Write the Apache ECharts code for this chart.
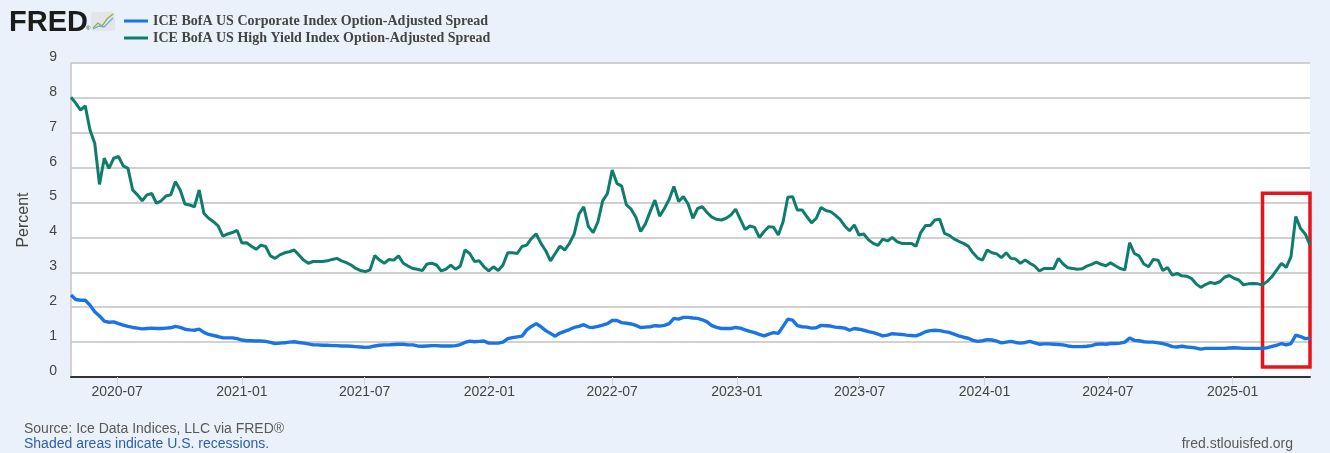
<!DOCTYPE html>
<html>
<head>
<meta charset="utf-8">
<title>ICE BofA US Option-Adjusted Spreads</title>
<script src="https://cdn.jsdelivr.net/npm/echarts@6.0.0/dist/echarts.min.js"></script>
<style>
  html, body { margin: 0; padding: 0; background: #eaf1fa; }
  #chart { width: 1330px; height: 453px; }
</style>
</head>
<body>
<div id="chart"></div>
<script>
// series names as in the legend
var igName = 'ICE BofA US Corporate Index Option-Adjusted Spread';
var hyName = 'ICE BofA US High Yield Index Option-Adjusted Spread';

// weekly observations, first one on 2020-04-24, last one on 2025-04-25
var firstWeek = [2020, 4, 24];
var lastDay = [2025, 4, 25];

// x axis tick labels
var tickLabels = ['2020-07', '2021-01', '2021-07', '2022-01', '2022-07',
                  '2023-01', '2023-07', '2024-01', '2024-07', '2025-01'];

// High Yield OAS, percent (one value per week)
var hyValues = [
  8.02, 7.85, 7.65, 7.77, 7.08, 6.70, 5.52, 6.27, 5.98, 6.27,
  6.32, 6.05, 5.98, 5.36, 5.22, 5.05, 5.22, 5.26, 4.98, 5.05,
  5.19, 5.22, 5.60, 5.36, 4.96, 4.93, 4.88, 5.36, 4.69, 4.55,
  4.45, 4.33, 4.04, 4.10,
  4.14, 4.20, 3.84, 3.85, 3.75, 3.66, 3.78, 3.74, 3.47, 3.40,
  3.50, 3.56, 3.59, 3.64, 3.50, 3.35, 3.26, 3.31, 3.31, 3.31,
  3.33, 3.37, 3.40, 3.33, 3.28, 3.21, 3.11, 3.05, 3.02, 3.07,
  3.48, 3.35,
  3.26, 3.37, 3.35, 3.47, 3.26, 3.18, 3.11, 3.09, 3.05, 3.24,
  3.26, 3.21, 3.04, 3.09, 3.21, 3.09, 3.18, 3.64, 3.54, 3.31,
  3.33, 3.16, 3.04, 3.16, 3.05, 3.21, 3.56, 3.56, 3.54, 3.74,
  3.78, 3.97, 4.10,
  3.83, 3.62, 3.33, 3.54, 3.75, 3.64, 3.83, 4.10, 4.67, 4.88,
  4.31, 4.14, 4.45, 5.05, 5.26, 5.93, 5.55, 5.47, 4.93, 4.81,
  4.58, 4.17, 4.39, 4.74, 5.07, 4.61, 4.83, 5.09, 5.46, 5.03,
  5.17, 4.96, 4.55,
  4.83, 4.88, 4.71, 4.58, 4.52, 4.50, 4.55, 4.64, 4.81, 4.52,
  4.23, 4.33, 4.29, 4.00, 4.17, 4.31, 4.29, 4.07, 4.45, 5.15,
  5.17, 4.79, 4.79, 4.60, 4.42, 4.55, 4.86, 4.77, 4.74, 4.64,
  4.52, 4.33, 4.19,
  4.36, 4.07, 4.10, 3.93, 3.83, 3.77, 3.95, 3.90, 4.00, 3.88,
  3.83, 3.83, 3.83, 3.75, 4.14, 4.34, 4.34, 4.50, 4.52, 4.12,
  4.06, 3.96, 3.89, 3.83, 3.75, 3.56, 3.41, 3.35, 3.64, 3.56,
  3.53, 3.42, 3.56,
  3.40, 3.38, 3.26, 3.35, 3.26, 3.18, 3.04, 3.11, 3.11, 3.11,
  3.40, 3.24, 3.13, 3.11, 3.09, 3.10, 3.18, 3.23, 3.29, 3.23,
  3.19, 3.27, 3.19, 3.11, 3.07, 3.85, 3.54, 3.47, 3.24, 3.16,
  3.37, 3.35, 3.05,
  3.14, 2.92, 2.97, 2.90, 2.89, 2.83, 2.67, 2.57, 2.65, 2.71,
  2.68, 2.73, 2.86, 2.91, 2.83, 2.78, 2.64, 2.67, 2.68, 2.67,
  2.64, 2.74, 2.88, 3.07, 3.26, 3.14, 3.45, 4.60, 4.26, 4.10,
  3.78
];

// Corporate (investment grade) OAS, percent
var igValues = [
  2.35, 2.22, 2.20, 2.20, 2.06, 1.87, 1.75, 1.60, 1.57, 1.58,
  1.53, 1.49, 1.45, 1.42, 1.40, 1.38, 1.39, 1.40, 1.39, 1.39,
  1.40, 1.41, 1.45, 1.42, 1.37, 1.35, 1.34, 1.37, 1.28, 1.22,
  1.19, 1.16, 1.12, 1.12,
  1.12, 1.10, 1.06, 1.04, 1.04, 1.03, 1.03, 1.02, 0.99, 0.96,
  0.97, 0.98, 1.00, 1.01, 0.99, 0.97, 0.95, 0.92, 0.92, 0.91,
  0.91, 0.90, 0.90, 0.89, 0.89, 0.88, 0.87, 0.86, 0.85, 0.86,
  0.89, 0.91,
  0.92, 0.92, 0.93, 0.94, 0.94, 0.92, 0.92, 0.89, 0.88, 0.89,
  0.90, 0.90, 0.89, 0.89, 0.89, 0.90, 0.93, 0.99, 1.03, 1.01,
  1.02, 1.03, 0.97, 0.97, 0.97, 1.00, 1.10, 1.13, 1.15, 1.17,
  1.35, 1.45, 1.53,
  1.44, 1.33, 1.25, 1.17, 1.26, 1.31, 1.36, 1.42, 1.45, 1.50,
  1.43, 1.42, 1.45, 1.49, 1.53, 1.62, 1.62, 1.56, 1.54, 1.52,
  1.48, 1.42, 1.43, 1.44, 1.47, 1.46, 1.48, 1.53, 1.68, 1.66,
  1.71, 1.71, 1.69,
  1.68, 1.64, 1.58, 1.47, 1.42, 1.39, 1.39, 1.39, 1.42, 1.40,
  1.35, 1.31, 1.27, 1.22, 1.18, 1.23, 1.27, 1.25, 1.45, 1.66,
  1.63, 1.47, 1.44, 1.43, 1.40, 1.41, 1.48, 1.47, 1.46, 1.43,
  1.42, 1.40, 1.34,
  1.39, 1.37, 1.34, 1.30, 1.27, 1.23, 1.18, 1.20, 1.24, 1.23,
  1.22, 1.20, 1.19, 1.18, 1.23, 1.30, 1.33, 1.34, 1.33, 1.30,
  1.28, 1.23, 1.18, 1.14, 1.11, 1.05, 1.02, 1.04, 1.07, 1.06,
  1.03, 0.98, 1.00,
  1.02, 0.99, 0.97, 0.99, 1.02, 0.98, 0.94, 0.95, 0.95, 0.94,
  0.93, 0.92, 0.89, 0.87, 0.87, 0.87, 0.88, 0.90, 0.94, 0.95,
  0.94, 0.96, 0.96, 0.97, 1.00, 1.12, 1.05, 1.04, 1.01, 1.00,
  1.00, 0.98, 0.96,
  0.92, 0.87, 0.86, 0.88, 0.86, 0.85, 0.83, 0.80, 0.82, 0.82,
  0.82, 0.82, 0.82, 0.83, 0.84, 0.83, 0.82, 0.82, 0.82, 0.82,
  0.82, 0.84, 0.88, 0.91, 0.96, 0.92, 0.96, 1.20, 1.16, 1.10,
  1.11
];

// red highlight box (data coords): from this date to the end, between these values
var boxStart = [2025, 2, 14];
var boxLow = 0.29;
var boxHigh = 5.27;

var sansFont = "'Liberation Sans', Arial, sans-serif";
var serifFont = "'Liberation Serif', 'Times New Roman', serif";

function ts(ymd) {
    return new Date(ymd[0], ymd[1] - 1, ymd[2]).getTime();
}

function weekTs(k) {
    return new Date(firstWeek[0], firstWeek[1] - 1, firstWeek[2] + 7 * k).getTime();
}

function pairs(values) {
    var out = [];
    for (var k = 0; k < values.length; k++) {
        out.push([weekTs(k), values[k]]);
    }
    return out;
}

var tickTs = tickLabels.map(function (s) {
    var p = s.split('-');
    return ts([+p[0], +p[1], 1]);
});

function fmtMonth(v) {
    var i = tickTs.indexOf(v);
    return i >= 0 ? tickLabels[i] : '';
}

var myChart = echarts.init(document.getElementById('chart'), null, { renderer: 'canvas' });

var option = {
    animation: false,
    backgroundColor: '#eaf1fa',
    textStyle: { fontFamily: sansFont },
    legend: {
        orient: 'vertical',
        left: 124,
        top: 13,
        padding: 0,
        itemGap: 1,
        itemWidth: 24,
        itemHeight: 3,
        icon: 'rect',
        selectedMode: false,
        data: [igName, hyName],
        textStyle: {
            fontFamily: serifFont,
            fontWeight: 'bold',
            fontSize: 14,
            lineHeight: 16,
            color: '#444'
        }
    },
    grid: {
        left: 71,
        right: 20,
        top: 63,
        bottom: 76,
        containLabel: false,
        show: true,
        backgroundColor: '#ffffff',
        borderWidth: 0
    },
    xAxis: {
        type: 'value',
        min: weekTs(0),
        max: ts(lastDay),
        axisLine: { show: true, onZero: false, lineStyle: { color: '#333', width: 2 } },
        axisTick: {
            show: true,
            customValues: tickTs,
            length: 8,
            lineStyle: { color: '#c9d6e8', width: 1 }
        },
        axisLabel: {
            customValues: tickTs,
            formatter: fmtMonth,
            color: '#444',
            fontSize: 14,
            fontFamily: sansFont,
            margin: 8
        },
        splitLine: { show: false },
        minorTick: { show: false }
    },
    yAxis: {
        type: 'value',
        min: 0,
        max: 9,
        interval: 1,
        name: 'Percent',
        nameLocation: 'middle',
        nameGap: 39,
        nameRotate: 90,
        nameTextStyle: { color: '#444', fontSize: 16, fontFamily: sansFont },
        axisLine: { show: true, lineStyle: { color: '#c4c4c4', width: 1.5 } },
        axisTick: { show: false },
        axisLabel: {
            color: '#444',
            fontSize: 14,
            fontFamily: sansFont,
            margin: 14,
            verticalAlign: 'bottom',
            lineHeight: 12
        },
        splitLine: { show: true, lineStyle: { color: '#c2c2c2', width: 1.5 } }
    },
    series: [
        {
            name: igName,
            type: 'line',
            color: '#1b74e4',
            showSymbol: false,
            symbol: 'none',
            lineStyle: { color: '#1b74e4', width: 3.4 },
            emphasis: { disabled: true },
            data: pairs(igValues)
        },
        {
            name: hyName,
            type: 'line',
            color: '#0f7d6c',
            showSymbol: false,
            symbol: 'none',
            clip: false,
            lineStyle: { color: '#0f7d6c', width: 3 },
            emphasis: { disabled: true },
            data: pairs(hyValues),
            markArea: {
                silent: true,
                label: { show: false },
                itemStyle: { color: 'rgba(0,0,0,0)', borderColor: '#e8141a', borderWidth: 3.5 },
                data: [[
                    { xAxis: ts(boxStart), yAxis: boxLow },
                    { xAxis: ts(lastDay), yAxis: boxHigh }
                ]]
            }
        }
    ],
    graphic: [
        // FRED logo
        { type: 'text', left: 9, top: 8, style: { text: 'FRED', font: 'bold 29px ' + sansFont, fill: '#1c1c1c' } },
        { type: 'text', left: 86, top: 25, style: { text: '®', font: '6px ' + sansFont, fill: '#333' } },
        { type: 'rect', left: 91, top: 12, shape: { width: 24, height: 19, r: 2 }, style: { fill: '#e2e6ea' } },
        { type: 'polyline', shape: { points: [[93, 28], [98, 23], [102, 26], [107, 19], [113, 14]] },
          style: { stroke: '#8db24e', lineWidth: 1.3, fill: null } },
        { type: 'polyline', shape: { points: [[93, 29], [99, 26], [104, 27], [109, 22], [113, 18]] },
          style: { stroke: '#79a6d6', lineWidth: 1.3, fill: null } },
        // footer
        { type: 'text', left: 24, top: 422, style: { text: 'Source: Ice Data Indices, LLC via FRED®', font: '14px ' + sansFont, fill: '#595959' } },
        { type: 'text', left: 24, top: 437, style: { text: 'Shaded areas indicate U.S. recessions.', font: '14px ' + sansFont, fill: '#2f5fa8' } },
        { type: 'text', right: 37, top: 437, style: { text: 'fred.stlouisfed.org', font: '14px ' + sansFont, fill: '#595959' } }
    ]
};

myChart.setOption(option);
</script>
</body>
</html>
